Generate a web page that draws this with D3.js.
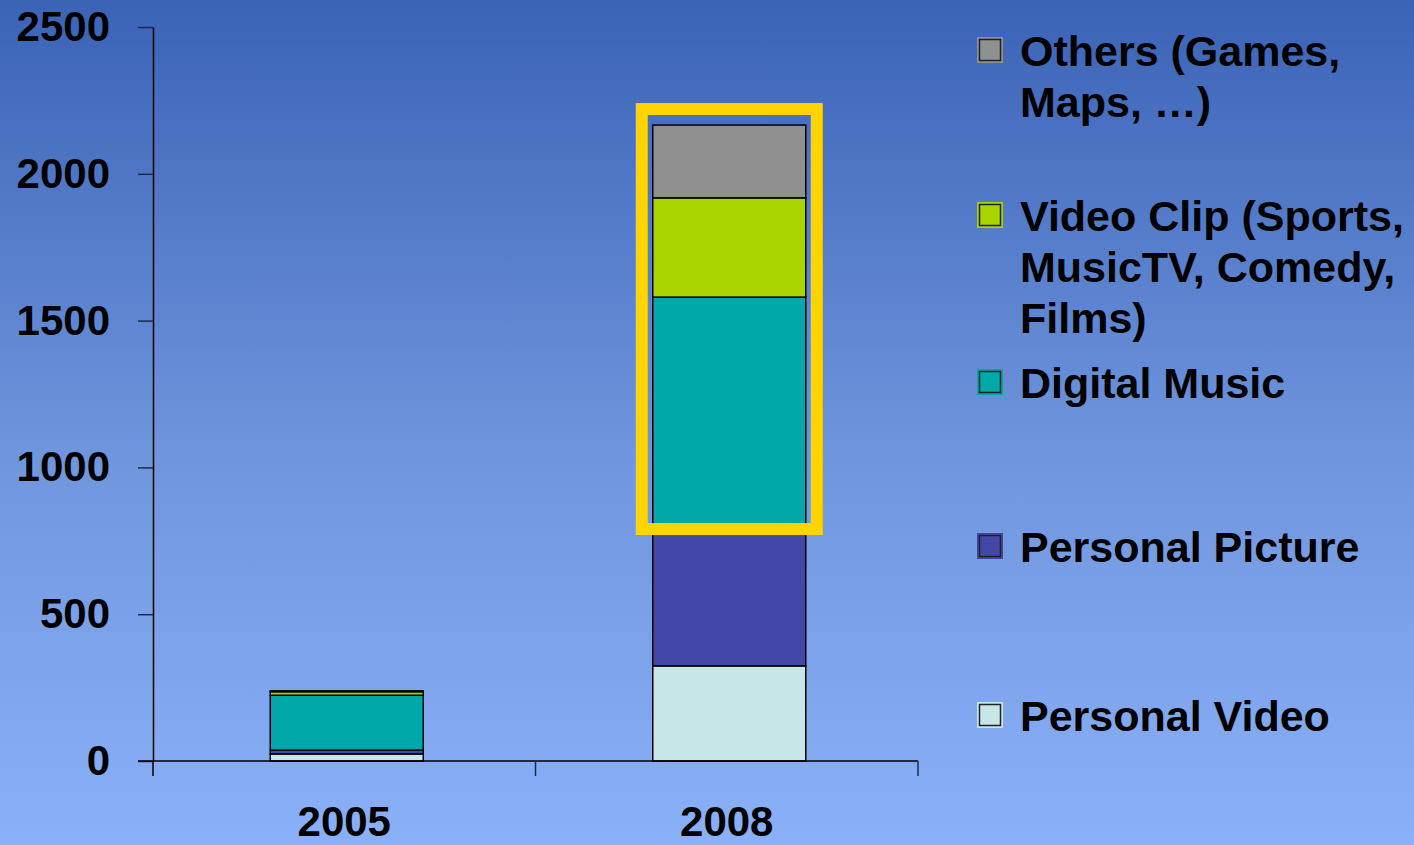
<!DOCTYPE html>
<html>
<head>
<meta charset="utf-8">
<script src="https://cdn.jsdelivr.net/npm/d3@7"></script>
<style>
  body { margin: 0; }
  svg { display: block; font-family: "Liberation Sans", Arial, sans-serif; font-weight: bold; }
</style>
</head>
<body>
<svg></svg>
<script>
//data
const categories = ["2005", "2008"];
const seriesKeys = ["personalVideo", "personalPicture", "digitalMusic", "videoClip", "others"];
const personalVideo = [24, 324];
const personalPicture = [13, 466];
const digitalMusic = [187, 790];
const videoClip = [12, 338];
const others = [3, 248];
const yTicks = [0, 500, 1000, 1500, 2000, 2500];
const colors = ["#c6e6e8", "#4348a8", "#00a8aa", "#aad400", "#909090"];
const legendLabels = [
    ["Personal Video"],
    ["Personal Picture"],
    ["Digital Music"],
    ["Video Clip (Sports,", "MusicTV, Comedy,", "Films)"],
    ["Others (Games,", "Maps, \u2026)"]
];

const W = 1414, H = 845;
const svg = d3.select("svg").attr("width", W).attr("height", H);

//background gradient
const grad = svg.append("defs").append("linearGradient")
    .attr("id", "bg").attr("x1", 0).attr("y1", 0).attr("x2", 0).attr("y2", 1);
grad.append("stop").attr("offset", "0%").attr("stop-color", "#3b63b6");
grad.append("stop").attr("offset", "55%").attr("stop-color", "#7096de");
grad.append("stop").attr("offset", "100%").attr("stop-color", "#8ab0f7");
svg.append("rect").attr("width", W).attr("height", H).attr("fill", "url(#bg)");

//scales
const x = d3.scaleBand().domain(categories).range([153, 918]).padding(0);
const y = d3.scaleLinear().domain([0, 2500]).range([761, 27]);

const table = categories.map((c, i) => ({
    year: c,
    personalVideo: personalVideo[i],
    personalPicture: personalPicture[i],
    digitalMusic: digitalMusic[i],
    videoClip: videoClip[i],
    others: others[i]
}));
const stacked = d3.stack().keys(seriesKeys)(table);

//y axis
const yAxis = svg.append("g")
    .attr("transform", "translate(153,0)")
    .call(d3.axisLeft(y).tickValues(yTicks).tickFormat(d3.format("d"))
        .tickSize(15).tickSizeOuter(0).tickPadding(28));
yAxis.select(".domain").attr("stroke", "#000").attr("stroke-width", 1.5);
yAxis.selectAll(".tick line").attr("stroke", "#1a2a50").attr("stroke-width", 1.5);
yAxis.selectAll(".tick text")
    .attr("font-size", 42).attr("font-family", "Liberation Sans, Arial, sans-serif")
    .attr("font-weight", "bold").attr("fill", "#000");
svg.append("line").attr("x1", 153).attr("x2", 153).attr("y1", y(0)).attr("y2", 776)
    .attr("stroke", "#000").attr("stroke-width", 1.5);

//bars
const bw = x.bandwidth() * 0.4;
const barX = c => x(c) + (x.bandwidth() - bw) / 2 + 2.5;
svg.append("g").selectAll("g")
    .data(stacked)
    .join("g")
    .attr("fill", (d, i) => colors[i])
    .selectAll("rect")
    .data(d => d)
    .join("rect")
    .attr("x", d => barX(d.data.year))
    .attr("y", d => y(d[1]))
    .attr("width", bw)
    .attr("height", d => y(d[0]) - y(d[1]))
    .attr("stroke", "#000")
    .attr("stroke-width", 1.5);

//x axis
const xAxis = svg.append("g")
    .attr("transform", `translate(0,${y(0)})`)
    .call(d3.axisBottom(x).tickSize(0).tickSizeOuter(0));
xAxis.select(".domain").remove();
xAxis.selectAll(".tick text")
    .attr("y", 75).attr("dy", 0)
    .attr("font-size", 42).attr("font-family", "Liberation Sans, Arial, sans-serif")
    .attr("font-weight", "bold").attr("fill", "#000");
svg.append("line").attr("x1", 138).attr("x2", x.range()[1]).attr("y1", y(0)).attr("y2", y(0))
    .attr("stroke", "#000").attr("stroke-width", 1.5);
const edges = categories.map(c => x(c)).concat([x.range()[1]]);
svg.append("g").selectAll("line").data(edges.slice(1)).join("line")
    .attr("x1", d => d).attr("x2", d => d)
    .attr("y1", y(0)).attr("y2", 776)
    .attr("stroke", "#1a2a50").attr("stroke-width", 1.5);

//highlight box around the top three segments of 2008
const top2008 = stacked[stacked.length - 1][1][1];
const base2008 = stacked[1][1][1];
svg.append("rect")
    .attr("x", barX("2008") - 11)
    .attr("y", y(top2008) - 16)
    .attr("width", bw + 22)
    .attr("height", y(base2008) - y(top2008) + 16)
    .attr("fill", "none")
    .attr("stroke", "#ffd400")
    .attr("stroke-width", 12);

//legend
const legendBaselines = [731, 562, 398, 231, 66];
const legend = svg.append("g").selectAll("g")
    .data(legendLabels)
    .join("g")
    .attr("transform", (d, i) => `translate(977,${legendBaselines[i]})`);
legend.append("rect")
    .attr("x", 0).attr("y", -29).attr("width", 26).attr("height", 26)
    .attr("fill", (d, i) => colors[i]);
legend.append("rect")
    .attr("x", 2.5).attr("y", -26.5).attr("width", 21).attr("height", 21)
    .attr("fill", (d, i) => colors[i])
    .attr("stroke", "#222").attr("stroke-width", 1.5);
legend.append("text")
    .attr("x", 43)
    .attr("font-size", 43)
    .attr("fill", "#000")
    .selectAll("tspan")
    .data(d => d)
    .join("tspan")
    .attr("x", 43)
    .attr("dy", (d, i) => i === 0 ? 0 : 51)
    .text(d => d);
</script>
</body>
</html>
